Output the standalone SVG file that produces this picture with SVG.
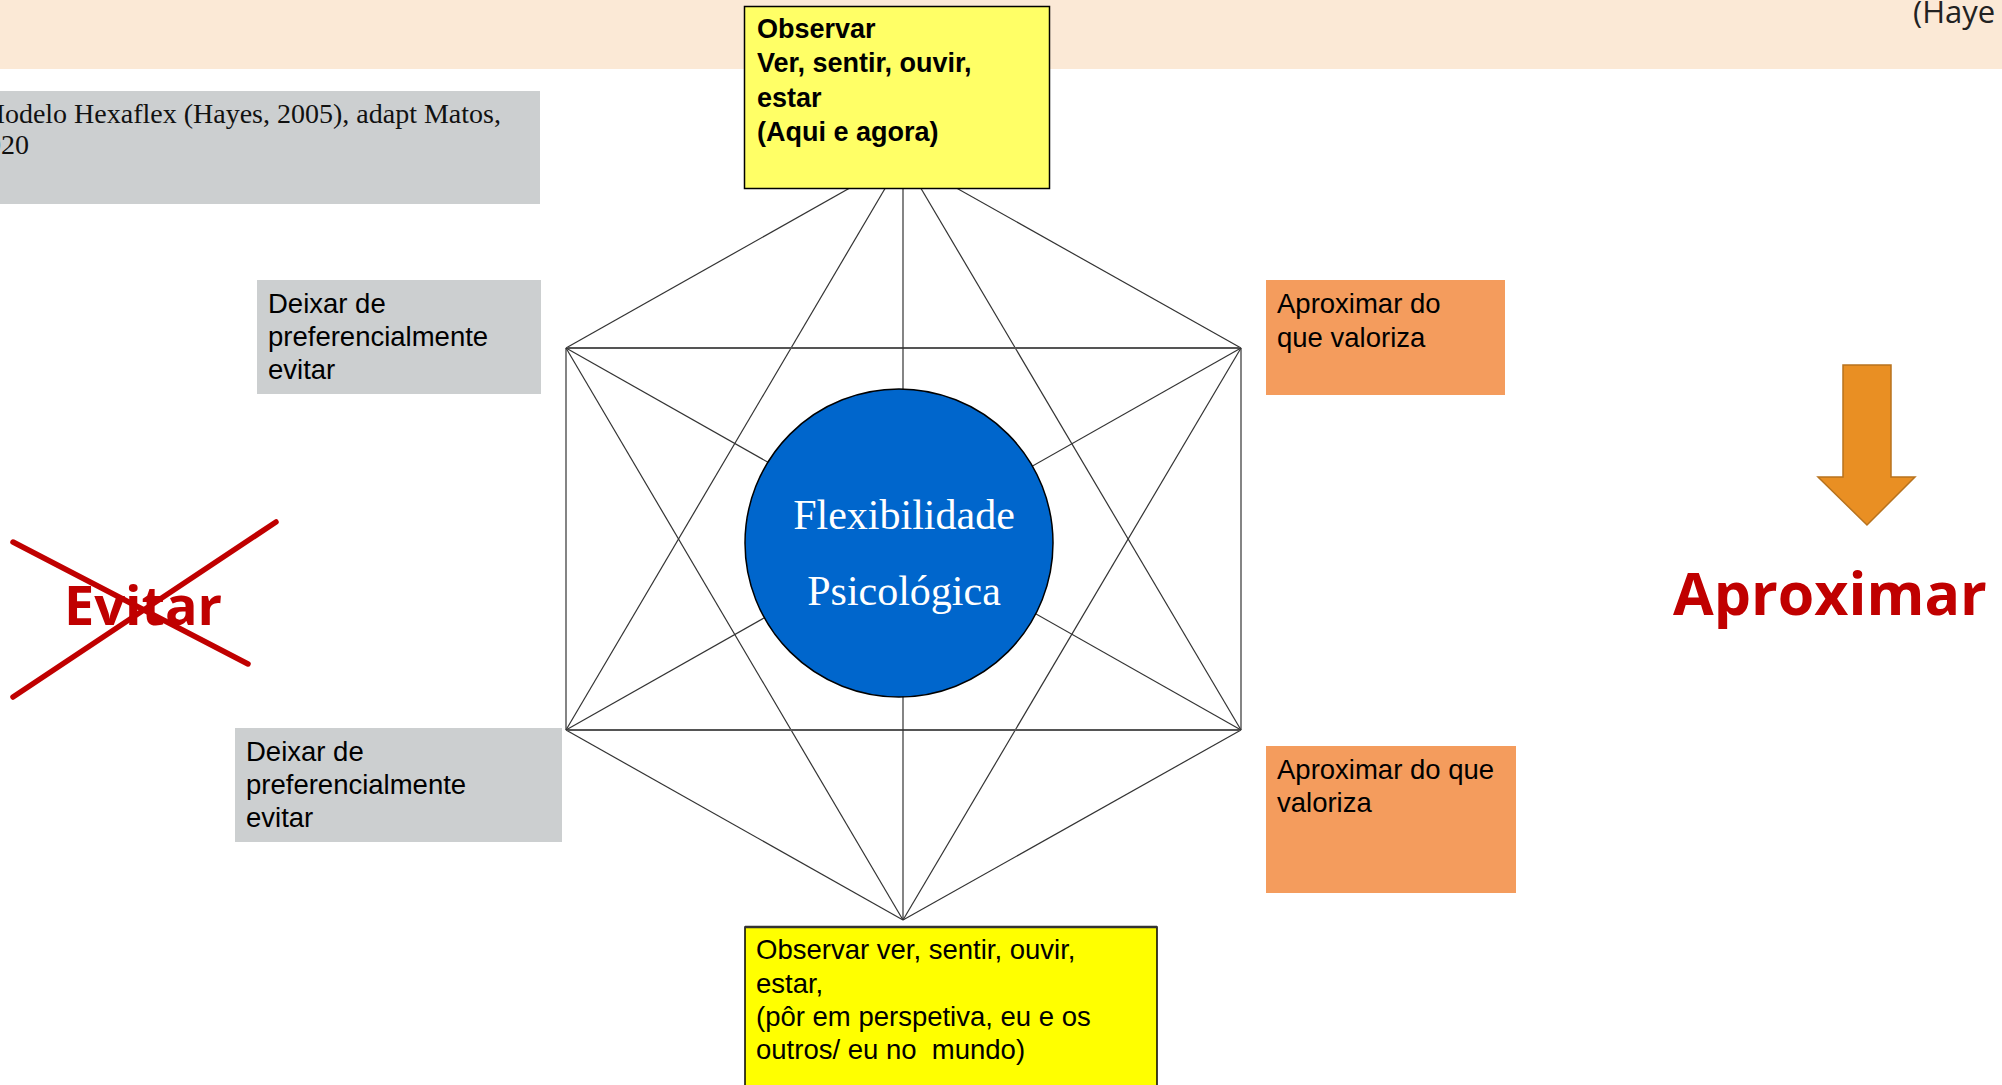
<svg xmlns="http://www.w3.org/2000/svg" width="2002" height="1085" viewBox="0 0 2002 1085">
<style>
.sans{font-family:"Liberation Sans",Arial,sans-serif;fill:#000}
.reg{font-size:27.5px}
.bold{font-size:27px;font-weight:bold}
.edge{stroke:#333;stroke-width:1.2;fill:none}
.hz{stroke:#555;stroke-width:1.8;fill:none}
.gray{fill:#CCCFD0}
.orange{fill:#F49C5D}
.big{font-family:"Open Sans","Noto Sans",sans-serif;font-weight:bold;fill:#C00000}
.cross{stroke:#C00000;stroke-width:5.5;stroke-linecap:round}
</style>
<rect x="0" y="0" width="2002" height="1085" fill="#FFFFFF"/>
<rect id="banner" x="0" y="0" width="2002" height="69" fill="#FBE9D6"/>
<text id="ref-top" x="1913" y="23" font-family="'Open Sans','Noto Sans',sans-serif" font-size="31" fill="#222">(Haye</text>
<g id="caption">
<rect x="0" y="91" width="540" height="113" class="gray"/>
<text x="-20" y="123" font-family="'Liberation Serif','Times New Roman',serif" font-size="28" fill="#111">Modelo Hexaflex (Hayes, 2005), adapt Matos,</text>
<text x="-27" y="154" font-family="'Liberation Serif','Times New Roman',serif" font-size="28" fill="#111">2020</text>
</g>
<g id="connectors">
<line class="edge" x1="903" y1="158" x2="566" y2="348"/>
<line class="edge" x1="903" y1="158" x2="1241" y2="348"/>
<line class="edge" x1="566" y1="348" x2="566" y2="730"/>
<line class="edge" x1="1241" y1="348" x2="1241" y2="730"/>
<line class="edge" x1="566" y1="730" x2="903" y2="920"/>
<line class="edge" x1="1241" y1="730" x2="903" y2="920"/>
<line class="edge" x1="903" y1="158" x2="566" y2="730"/>
<line class="edge" x1="903" y1="158" x2="1241" y2="730"/>
<line class="edge" x1="903" y1="920" x2="566" y2="348"/>
<line class="edge" x1="903" y1="920" x2="1241" y2="348"/>
<line class="hz" x1="566" y1="348" x2="1241" y2="348"/>
<line class="hz" x1="566" y1="730" x2="1241" y2="730"/>
<line class="edge" x1="903" y1="158" x2="903" y2="920"/>
<line class="edge" x1="566" y1="348" x2="1241" y2="730"/>
<line class="edge" x1="1241" y1="348" x2="566" y2="730"/>
</g>
<g id="center">
<circle cx="899" cy="543" r="154" fill="#0066CC" stroke="#000" stroke-width="1.5"/>
<text x="904" y="529" text-anchor="middle" font-family="'Liberation Serif','Times New Roman',serif" font-size="42" fill="#FFFFFF">Flexibilidade</text>
<text x="904" y="605" text-anchor="middle" font-family="'Liberation Serif','Times New Roman',serif" font-size="42" fill="#FFFFFF">Psicológica</text>
</g>
<g id="observar-top">
<rect x="744.5" y="6.5" width="305" height="182" fill="#FFFF66" stroke="#000" stroke-width="1.5"/>
<text class="sans bold" x="757" y="38">Observar</text>
<text class="sans bold" x="757" y="72">Ver, sentir, ouvir,</text>
<text class="sans bold" x="757" y="107">estar</text>
<text class="sans bold" x="757" y="141">(Aqui e agora)</text>
</g>
<g id="deixar-top">
<rect x="257" y="280" width="284" height="114" class="gray"/>
<text class="sans reg" x="268" y="313">Deixar de</text>
<text class="sans reg" x="268" y="346">preferencialmente</text>
<text class="sans reg" x="268" y="379">evitar</text>
</g>
<g id="deixar-bottom">
<rect x="235" y="728" width="327" height="114" class="gray"/>
<text class="sans reg" x="246" y="761">Deixar de</text>
<text class="sans reg" x="246" y="794">preferencialmente</text>
<text class="sans reg" x="246" y="827">evitar</text>
</g>
<g id="aproximar-top">
<rect x="1266" y="280" width="239" height="115" class="orange"/>
<text class="sans reg" x="1277" y="313">Aproximar do</text>
<text class="sans reg" x="1277" y="347">que valoriza</text>
</g>
<g id="aproximar-bottom">
<rect x="1266" y="746" width="250" height="147" class="orange"/>
<text class="sans reg" x="1277" y="779">Aproximar do que</text>
<text class="sans reg" x="1277" y="812">valoriza</text>
</g>
<g id="observar-bottom">
<rect x="745" y="927" width="412" height="170" fill="#FFFF00" stroke="#000" stroke-width="1.5"/>
<line x1="745" y1="927" x2="1157" y2="927" stroke="#333" stroke-width="2.5"/>
<text class="sans reg" x="756" y="959">Observar ver, sentir, ouvir,</text>
<text class="sans reg" x="756" y="993">estar,</text>
<text class="sans reg" x="756" y="1026">(pôr em perspetiva, eu e os</text>
<text class="sans reg" x="756" y="1059" xml:space="preserve">outros/ eu no  mundo)</text>
</g>
<g id="arrow">
<polygon points="1843,365 1891,365 1891,477 1915,477 1867,525 1818,477 1843,477" fill="#E98F23" stroke="#B8731E" stroke-width="1.5"/>
</g>
<g id="aproximar-label">
<text class="big" x="1673" y="615" font-size="59">Aproximar</text>
</g>
<g id="evitar-label">
<text class="big" x="64" y="625" font-size="54">Evitar</text>
<line class="cross" x1="13" y1="542" x2="248" y2="664"/>
<line class="cross" x1="13" y1="697" x2="276" y2="522"/>
</g>
</svg>
